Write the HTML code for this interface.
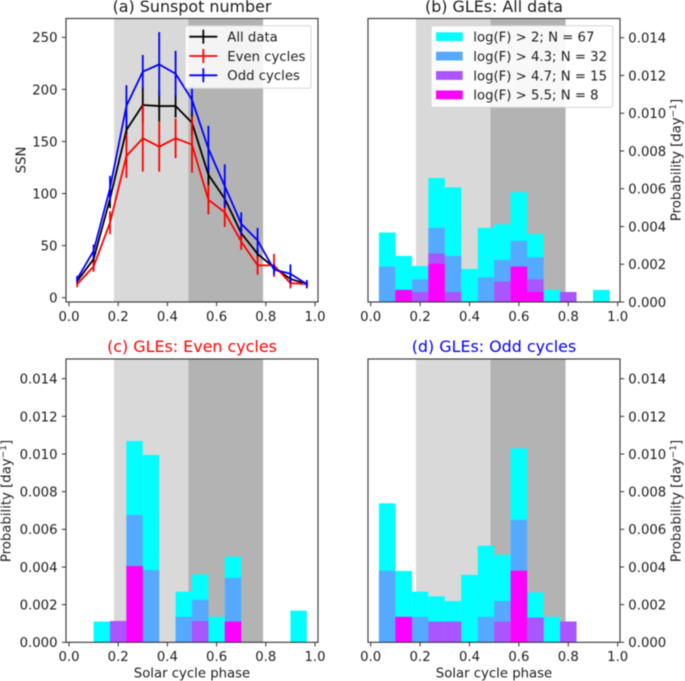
<!DOCTYPE html>
<html lang="en">
<head>
<meta charset="utf-8">
<title>Sunspot number and GLE probability by solar cycle phase</title>
<style>
html,body{margin:0;padding:0;background:#fff;width:685px;height:681px;overflow:hidden}
svg{display:block;filter:blur(0.4px)}
text{font-family:"DejaVu Sans","Liberation Sans",sans-serif;fill:#1c1c1c}
</style>
</head>
<body>
<svg id="figure" xmlns="http://www.w3.org/2000/svg" width="685" height="681" viewBox="0 0 685 681"></svg>
<script>
// ---- Data ----
const phaseCenters = [0.0333,0.1,0.1667,0.2333,0.3,0.3667,0.4333,0.5,0.5667,0.6333,0.7,0.7667,0.8333,0.9,0.9667];
const ssnAll = [16,37,95,161,185,184,184,168,118,95,62,42,29,18,13];
const ssnAllErr = [3,8,9,15,17,15,11,12,10,7,6,5,3,3,2];
const ssnEven = [13,30,72,136,153,145,153,147,94,82,54,31,31,14,13];
const ssnEvenErr = [3,5,11,21,32,24,19,27,14,14,8,9,11,5,3];
const ssnOdd = [18,45,105,184,217,224,215,190,143,107,71,55,27,23,13];
const ssnOddErr = [3,6,12,20,16,31,22,13,22,21,11,12,5,9,4];
const ssnTicks = [0,50,100,150,200,250];
const probTicks = [0,0.002,0.004,0.006,0.008,0.010,0.012,0.014];
const phaseTicks = [0,0.2,0.4,0.6,0.8,1.0];
const binEdges = [0.0333,0.1,0.1667,0.2333,0.3,0.3667,0.4333,0.5,0.5667,0.6333,0.7,0.7667,0.8333,0.9,0.9667];
const risingBand = [0.183,0.485];
const decliningBand = [0.485,0.789];

// values in units of 0.001 per day
const allF2 =  [3.68,2.44,1.91,6.57,6.07,1.75,3.93,4.12,5.82,3.61,0.64,0.53,0,0.64];
const allF43 = [1.88,0.64,1.20,3.93,2.44,0,1.31,2.23,3.24,2.37,0,0.53,0,0];
const allF47 = [0,0.64,0.53,2.57,0.53,0,0,1.08,1.88,1.20,0,0.53,0,0];
const allF55 = [0,0.64,0,2.02,0,0,0,0,1.88,0.53,0,0,0,0];

const evenF2 =  [0,1.10,1.13,10.69,9.95,0,2.69,3.61,1.35,4.55,0,0,0,1.68];
const evenF43 = [0,0,1.13,6.76,3.84,0,1.35,2.25,0,3.42,0,0,0,0];
const evenF47 = [0,0,1.13,4.05,0,0,0,1.13,0,1.10,0,0,0,0];
const evenF55 = [0,0,0,4.05,0,0,0,0,0,1.10,0,0,0,0];

const oddF2 =  [7.38,3.79,2.69,2.44,2.19,3.58,5.13,4.65,10.30,2.65,1.35,1.10,0,0];
const oddF43 = [3.80,1.35,1.35,1.10,1.10,0,1.35,2.19,6.50,1.31,0,1.10,0,0];
const oddF47 = [0,1.35,0,1.10,1.10,0,0,1.10,3.80,1.31,0,1.10,0,0];
const oddF55 = [0,1.35,0,0,0,0,0,0,3.80,0,0,0,0,0];

const histColors = ['#00ffff','#55aaff','#aa55ff','#ff00ff'];
const histNames = ['f-gt-2','f-gt-4-3','f-gt-4-7','f-gt-5-5'];
const histLegend = ['log(F) > 2; N = 67','log(F) > 4.3; N = 32','log(F) > 4.7; N = 15','log(F) > 5.5; N = 8'];
const lineLegend = ['All data','Even cycles','Odd cycles'];

// ---- Helpers ----
const NS = 'http://www.w3.org/2000/svg';
const fig = document.getElementById('figure');
const TICK_FONT = 13.25;
const TITLE_FONT = 15.9;
function make(tag, attrs, parent, txt){
  const e = document.createElementNS(NS, tag);
  for (const k in attrs) e.setAttribute(k, attrs[k]);
  if (txt !== undefined) e.textContent = txt;
  (parent || fig).appendChild(e);
  return e;
}
function xAxis(box){ return v => box.x0 + (box.x1 - box.x0) * v; }
function yAxis(box, top){ return v => box.y0 - (box.y0 - box.y1) * v / top; }

const panelA = {left:66, right:318, top:18.5, bottom:302, x0:69, x1:315, y0:297.7, y1:37.3};
const panelB = {left:368, right:620, top:18.5, bottom:302, x0:370.7, x1:617.7, y0:302, y1:37.7};
const panelC = {left:66, right:318, top:359, bottom:642.3, x0:69, x1:315, y0:642.3, y1:378.7};
const panelD = {left:368, right:620, top:359, bottom:642.3, x0:370.7, x1:617.7, y0:642.3, y1:378.7};

function drawBands(p, key){
  const x = xAxis(p);
  const a = make('rect',{x:x(risingBand[0]),y:p.top,width:x(risingBand[1])-x(risingBand[0]),height:p.bottom-p.top,fill:'#d9d9d9'});
  
  
  const b = make('rect',{x:x(decliningBand[0]),y:p.top,width:x(decliningBand[1])-x(decliningBand[0]),height:p.bottom-p.top,fill:'#b3b3b3'});
  
  
}
function drawFrame(p, key, yTicks, yFmt, yTop, side){
  const x = xAxis(p), y = yAxis(p, yTop);
  const frame = make('rect',{x:p.left,y:p.top,width:p.right-p.left,height:p.bottom-p.top,fill:'none',stroke:'#333','stroke-width':1.1});
  
  
  const xg = make('g',{});
  
  
  phaseTicks.forEach(t => {
    const tick = make('line',{x1:x(t),x2:x(t),y1:p.bottom,y2:p.bottom+4.2,stroke:'#333','stroke-width':1},xg);
    
    
    const lab = make('text',{x:x(t),y:p.bottom+18.9,'text-anchor':'middle','font-size':TICK_FONT},xg,t.toFixed(1));
    
    
  });
  const yg = make('g',{});
  
  
  yTicks.forEach(t => {
    const tx1 = side === 'left' ? p.left-4.2 : p.right+4.2;
    const tx2 = side === 'left' ? p.left : p.right;
    const tick = make('line',{x1:tx1,x2:tx2,y1:y(t),y2:y(t),stroke:'#333','stroke-width':1},yg);
    
    
    const lx = side === 'left' ? p.left-8.5 : p.right+8.3;
    const lab = make('text',{x:lx,y:y(t)+4.9,'text-anchor':side==='left'?'end':'start','font-size':TICK_FONT},yg,yFmt(t));
    
    
  });
}
function drawTitle(txt, cx, by, color, key){
  const t = make('text',{x:cx,y:by,'text-anchor':'middle','font-size':TITLE_FONT},fig,txt);
  t.style.fill = color;
  
  
}
function drawXLabel(cx, by, key){
  const t = make('text',{x:cx,y:by,'text-anchor':'middle','font-size':TICK_FONT},fig,'Solar cycle phase');
  
  
}
function drawProbLabel(cx, cy, key){
  const t = make('text',{'text-anchor':'middle','font-size':TICK_FONT,transform:'translate('+cx+','+cy+') rotate(-90)'});
  
  
  make('tspan',{},t,'Probability [day');
  make('tspan',{dy:-4.5,'font-size':9},t,'\u22121');
  make('tspan',{dy:4.5},t,']');
}
function drawHist(p, key, seriesList){
  const x = xAxis(p), y = yAxis(p, 14);
  seriesList.forEach((vals, s) => {
    const g = make('g',{fill:histColors[s]});
    
    
    vals.forEach((v, i) => {
      if (v <= 0) return;
      const r = make('rect',{x:x(binEdges[i]),y:y(v),width:x(binEdges[i+1])-x(binEdges[i]),height:y(0)-y(v)},g);
      
      
    });
  });
}
function drawErrLine(p, vals, errs, color, name){
  const x = xAxis(p), y = yAxis(p, 250);
  const g = make('g',{stroke:color,fill:'none','stroke-width':1.8});
  
  
  const path = make('polyline',{points:vals.map((v,i)=>x(phaseCenters[i])+','+y(v)).join(' '),'stroke-linejoin':'round'},g);
  
  
  vals.forEach((v,i)=>{
    const e = make('line',{x1:x(phaseCenters[i]),x2:x(phaseCenters[i]),y1:y(v-errs[i]),y2:y(v+errs[i])},g);
    
    
  });
}

// ---- Panel (a) ----
drawBands(panelA,'panel-a');
drawErrLine(panelA, ssnAll, ssnAllErr, '#000000', 'all-data-series');
drawErrLine(panelA, ssnEven, ssnEvenErr, '#ff0000', 'even-cycles-series');
drawErrLine(panelA, ssnOdd, ssnOddErr, '#0000ff', 'odd-cycles-series');
drawFrame(panelA,'panel-a',ssnTicks,t=>String(t),250,'left');
drawTitle('(a) Sunspot number',192,12,'#1c1c1c','panel-a');
const ssnLabel = make('text',{'text-anchor':'middle','font-size':TICK_FONT,transform:'translate(25.5,160) rotate(-90)'},fig,'SSN');



const legA = make('g',{});


make('rect',{x:185,y:25.7,width:126,height:62.5,rx:2,fill:'#fff','fill-opacity':0.85,stroke:'#d5d5d5','stroke-width':1},legA);
['#000000','#ff0000','#0000ff'].forEach((c,i)=>{
  const ly = 36.7 + i*19.3;
  const h = make('line',{x1:189.3,x2:217.3,y1:ly,y2:ly,stroke:c,'stroke-width':1.8},legA);
  
  
  const v = make('line',{x1:203.3,x2:203.3,y1:ly-7,y2:ly+7,stroke:c,'stroke-width':1.8},legA);
  
  
  const t = make('text',{x:227.3,y:ly+4.8,'font-size':TICK_FONT},legA,lineLegend[i]);
  
  
});

// ---- Panel (b) ----
drawBands(panelB,'panel-b');
drawHist(panelB,'panel-b',[allF2,allF43,allF47,allF55]);
drawFrame(panelB,'panel-b',probTicks,t=>t.toFixed(3),0.014,'right');
drawTitle('(b) GLEs: All data',494,12,'#1c1c1c','panel-b');
drawProbLabel(680.3,160,'panel-b');

const legB = make('g',{});


make('rect',{x:431,y:25.7,width:181.7,height:81.6,rx:2,fill:'#fff','fill-opacity':0.9,stroke:'#d5d5d5','stroke-width':1},legB);
histLegend.forEach((txt,i)=>{
  const ly = 36.7 + i*19.4;
  const sw = make('rect',{x:436,y:ly-4.4,width:26.7,height:8.8,fill:histColors[i]},legB);
  
  
  const t = make('text',{x:473.3,y:ly+4.8,'font-size':TICK_FONT},legB,txt);
  
  
});

// ---- Panel (c) ----
drawBands(panelC,'panel-c');
drawHist(panelC,'panel-c',[evenF2,evenF43,evenF47,evenF55]);
drawFrame(panelC,'panel-c',probTicks,t=>t.toFixed(3),0.014,'left');
drawTitle('(c) GLEs: Even cycles',192,352,'#ff0000','panel-c');
drawXLabel(192,677.5,'panel-c');
drawProbLabel(10.5,501,'panel-c');

// ---- Panel (d) ----
drawBands(panelD,'panel-d');
drawHist(panelD,'panel-d',[oddF2,oddF43,oddF47,oddF55]);
drawFrame(panelD,'panel-d',probTicks,t=>t.toFixed(3),0.014,'right');
drawTitle('(d) GLEs: Odd cycles',494,352,'#0000ff','panel-d');
drawXLabel(494,677.5,'panel-d');
drawProbLabel(680.3,501,'panel-d');
</script>
</body>
</html>
